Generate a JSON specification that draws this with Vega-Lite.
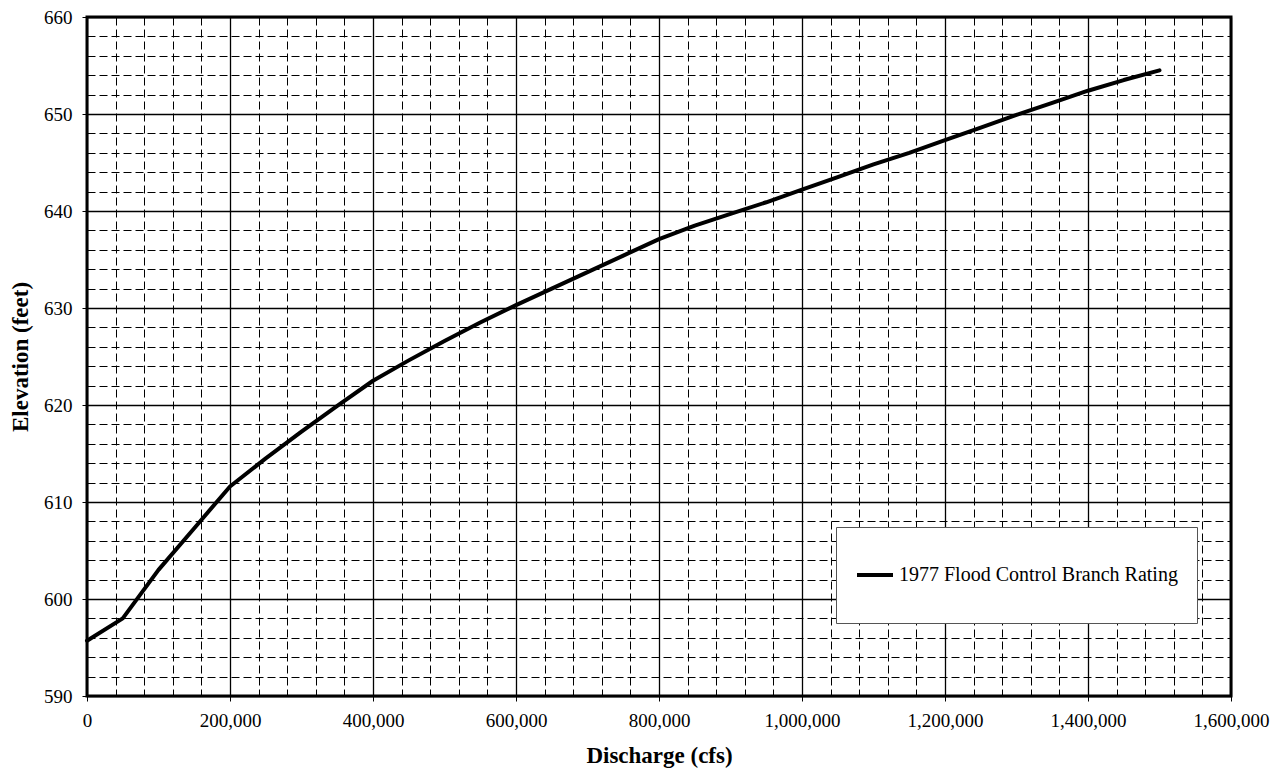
{
  "$schema": "https://vega.github.io/schema/vega-lite/v6.json",
  "width": 1144,
  "height": 679,
  "autosize": {"type": "none"},
  "padding": {"left": 87, "top": 17, "right": 54, "bottom": 83},
  "background": "white",
  "config": {
    "view": {"stroke": "black", "strokeWidth": 3},
    "font": "Liberation Serif"
  },
  "data": {
    "values": [
      {"discharge": 0, "elevation": 595.7, "series": "1977 Flood Control Branch Rating"},
      {"discharge": 50000, "elevation": 598.0, "series": "1977 Flood Control Branch Rating"},
      {"discharge": 100000, "elevation": 603.0, "series": "1977 Flood Control Branch Rating"},
      {"discharge": 150000, "elevation": 607.3, "series": "1977 Flood Control Branch Rating"},
      {"discharge": 200000, "elevation": 611.6, "series": "1977 Flood Control Branch Rating"},
      {"discharge": 250000, "elevation": 614.5, "series": "1977 Flood Control Branch Rating"},
      {"discharge": 300000, "elevation": 617.25, "series": "1977 Flood Control Branch Rating"},
      {"discharge": 350000, "elevation": 619.9, "series": "1977 Flood Control Branch Rating"},
      {"discharge": 400000, "elevation": 622.5, "series": "1977 Flood Control Branch Rating"},
      {"discharge": 450000, "elevation": 624.6, "series": "1977 Flood Control Branch Rating"},
      {"discharge": 500000, "elevation": 626.6, "series": "1977 Flood Control Branch Rating"},
      {"discharge": 550000, "elevation": 628.5, "series": "1977 Flood Control Branch Rating"},
      {"discharge": 600000, "elevation": 630.3, "series": "1977 Flood Control Branch Rating"},
      {"discharge": 650000, "elevation": 632.0, "series": "1977 Flood Control Branch Rating"},
      {"discharge": 700000, "elevation": 633.7, "series": "1977 Flood Control Branch Rating"},
      {"discharge": 750000, "elevation": 635.4, "series": "1977 Flood Control Branch Rating"},
      {"discharge": 800000, "elevation": 637.1, "series": "1977 Flood Control Branch Rating"},
      {"discharge": 850000, "elevation": 638.5, "series": "1977 Flood Control Branch Rating"},
      {"discharge": 900000, "elevation": 639.7, "series": "1977 Flood Control Branch Rating"},
      {"discharge": 950000, "elevation": 640.9, "series": "1977 Flood Control Branch Rating"},
      {"discharge": 1000000, "elevation": 642.2, "series": "1977 Flood Control Branch Rating"},
      {"discharge": 1050000, "elevation": 643.5, "series": "1977 Flood Control Branch Rating"},
      {"discharge": 1100000, "elevation": 644.8, "series": "1977 Flood Control Branch Rating"},
      {"discharge": 1150000, "elevation": 646.0, "series": "1977 Flood Control Branch Rating"},
      {"discharge": 1200000, "elevation": 647.3, "series": "1977 Flood Control Branch Rating"},
      {"discharge": 1250000, "elevation": 648.6, "series": "1977 Flood Control Branch Rating"},
      {"discharge": 1300000, "elevation": 649.9, "series": "1977 Flood Control Branch Rating"},
      {"discharge": 1350000, "elevation": 651.15, "series": "1977 Flood Control Branch Rating"},
      {"discharge": 1400000, "elevation": 652.4, "series": "1977 Flood Control Branch Rating"},
      {"discharge": 1450000, "elevation": 653.5, "series": "1977 Flood Control Branch Rating"},
      {"discharge": 1500000, "elevation": 654.5, "series": "1977 Flood Control Branch Rating"}
    ]
  },
  "mark": {"type": "line", "strokeWidth": 4, "strokeJoin": "round", "strokeCap": "round"},
  "encoding": {
    "x": {
      "field": "discharge",
      "type": "quantitative",
      "scale": {"domain": [0, 1600000], "nice": false, "zero": false},
      "axis": {
        "title": "Discharge (cfs)",
        "titleFont": "Liberation Serif",
        "titleFontSize": 23,
        "titleFontWeight": "bold",
        "titleColor": "black",
        "titlePadding": 14,
        "values": [0,40000,80000,120000,160000,200000,240000,280000,320000,360000,400000,440000,480000,520000,560000,600000,640000,680000,720000,760000,800000,840000,880000,920000,960000,1000000,1040000,1080000,1120000,1160000,1200000,1240000,1280000,1320000,1360000,1400000,1440000,1480000,1520000,1560000,1600000],
        "labelExpr": "datum.value % 200000 === 0 ? format(datum.value, ',') : ''",
        "labelFont": "Liberation Serif",
        "labelFontSize": 19,
        "labelColor": "black",
        "labelPadding": 10,
        "labelOverlap": false,
        "labelFlush": false,
        "domain": false,
        "tickSize": 5,
        "tickColor": "black",
        "tickOpacity": {"condition": {"test": "datum.value % 200000 === 0", "value": 1}, "value": 0},
        "grid": true,
        "gridColor": "black",
        "gridOpacity": 1,
        "gridWidth": {"condition": {"test": "datum.value % 200000 === 0", "value": 1.3}, "value": 1},
        "gridDash": {"condition": {"test": "datum.value % 200000 === 0", "value": []}, "value": [8, 4]}
      }
    },
    "y": {
      "field": "elevation",
      "type": "quantitative",
      "scale": {"domain": [590, 660], "nice": false, "zero": false},
      "axis": {
        "title": "Elevation (feet)",
        "titleFont": "Liberation Serif",
        "titleFontSize": 23,
        "titleFontWeight": "bold",
        "titleColor": "black",
        "titlePadding": 11,
        "values": [590,592,594,596,598,600,602,604,606,608,610,612,614,616,618,620,622,624,626,628,630,632,634,636,638,640,642,644,646,648,650,652,654,656,658,660],
        "labelExpr": "datum.value % 10 === 0 ? datum.label : ''",
        "labelFont": "Liberation Serif",
        "labelFontSize": 19,
        "labelColor": "black",
        "labelPadding": 10,
        "labelOverlap": false,
        "labelFlush": false,
        "domain": false,
        "tickSize": 5,
        "tickColor": "black",
        "tickOpacity": {"condition": {"test": "datum.value % 10 === 0", "value": 1}, "value": 0},
        "grid": true,
        "gridColor": "black",
        "gridOpacity": 1,
        "gridWidth": {"condition": {"test": "datum.value % 10 === 0", "value": 1.3}, "value": 1},
        "gridDash": {"condition": {"test": "datum.value % 10 === 0", "value": []}, "value": [8, 4]}
      }
    },
    "color": {
      "field": "series",
      "type": "nominal",
      "scale": {"range": ["black"]},
      "legend": {
        "title": null,
        "orient": "none",
        "legendX": 749,
        "legendY": 510,
        "padding": 19,
        "clipHeight": 58,
        "fillColor": "white",
        "strokeColor": "#555555",
        "symbolType": "stroke",
        "symbolSize": 1296,
        "symbolStrokeWidth": 4,
        "symbolStrokeColor": "black",
        "labelFont": "Liberation Serif",
        "labelFontSize": 20,
        "labelColor": "black",
        "labelLimit": 500,
        "labelOffset": 4
      }
    }
  }
}
